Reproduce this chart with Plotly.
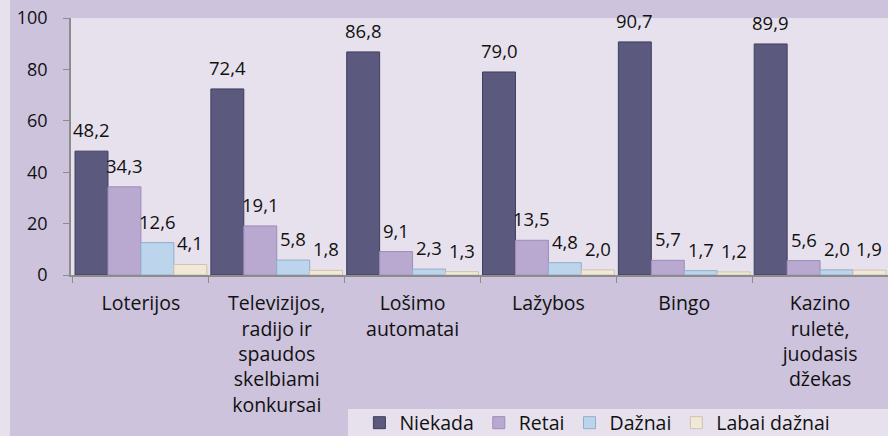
import plotly.graph_objects as go

categories = [
    "Loterijos",
    "Televizijos,<br>radijo ir<br>spaudos<br>skelbiami<br>konkursai",
    "Lošimo<br>automatai",
    "Lažybos",
    "Bingo",
    "Kazino<br>ruletė,<br>juodasis<br>džekas",
]
series_names = ["Niekada", "Retai", "Dažnai", "Labai dažnai"]
niekada = [48.2, 72.4, 86.8, 79.0, 90.7, 89.9]
retai = [34.3, 19.1, 9.1, 13.5, 5.7, 5.6]
daznai = [12.6, 5.8, 2.3, 4.8, 1.7, 2.0]
labai_daznai = [4.1, 1.8, 1.3, 2.0, 1.2, 1.9]
y_ticks = [0, 20, 40, 60, 80, 100]

series_values = [niekada, retai, daznai, labai_daznai]
colors = ["#5b5a7e", "#b9a9d1", "#bcd5ec", "#f2e8d8"]
edge_colors = ["#3f3e5e", "#9c8cb8", "#93aec8", "#cfc3ad"]

FONT = "Open Sans"
bargap = 0.03

fig = go.Figure()
for name, vals, c, ec in zip(series_names, series_values, colors, edge_colors):
    fig.add_trace(go.Bar(
        name=name, x=categories, y=vals,
        marker=dict(color=c, line=dict(color=ec, width=1)),
    ))

# value labels above bars, placed via category index and group offset
n = len(series_names)
w = (1 - bargap) / n
annotations = []
for j, vals in enumerate(series_values):
    for i, v in enumerate(vals):
        annotations.append(dict(
            x=i + (j - (n - 1) / 2) * w, y=v, xref="x", yref="y",
            text=f"{v:.1f}".replace(".", ","), showarrow=False,
            yanchor="bottom", yshift=7,
            font=dict(family=FONT, size=18.5, color="#111111"),
        ))

fig.update_layout(
    width=888, height=436,
    margin=dict(l=71, r=0, t=18, b=161, autoexpand=False),
    paper_bgcolor="#cdc3dd",
    plot_bgcolor="#e7e1ed",
    barmode="group", bargap=bargap, bargroupgap=0,
    font=dict(family=FONT, size=19, color="#111111"),
    annotations=annotations,
    showlegend=True,
    legend=dict(
        orientation="h", x=0.353, xanchor="left", y=-148 / 257, yanchor="middle",
        bgcolor="rgba(0,0,0,0)", font=dict(family=FONT, size=19.5, color="#111111"),
        traceorder="normal", itemwidth=30,
    ),
    shapes=[
        dict(type="rect", xref="paper", yref="paper", x0=-71 / 817, x1=-61 / 817,
             y0=-161 / 257, y1=1 + 18 / 257, fillcolor="#e7e1ed", line=dict(width=0),
             layer="below"),
        dict(type="rect", xref="paper", yref="paper", x0=277 / 817, x1=1,
             y0=-161 / 257, y1=-134 / 257, fillcolor="#e7e1ed", line=dict(width=0),
             layer="below"),
    ],
    xaxis=dict(
        type="category", showgrid=False, showline=True, linecolor="#8c8c8c", linewidth=1.5,
        ticks="outside", tickson="boundaries", ticklen=6, tickcolor="#8c8c8c",
        ticklabelstandoff=10,
        tickfont=dict(family=FONT, size=19.5, color="#111111"),
    ),
    yaxis=dict(
        range=[0, 100], tickvals=y_ticks, showgrid=False, showline=True,
        linecolor="#8c8c8c", linewidth=1.5, ticks="outside", ticklen=6,
        tickcolor="#8c8c8c", zeroline=False, ticklabelstandoff=12,
        tickfont=dict(family=FONT, size=18, color="#111111"),
    ),
)

fig.write_html(
    "out.html",
    config={"displayModeBar": False},
    post_script="document.body.style.margin='0px';",
)
